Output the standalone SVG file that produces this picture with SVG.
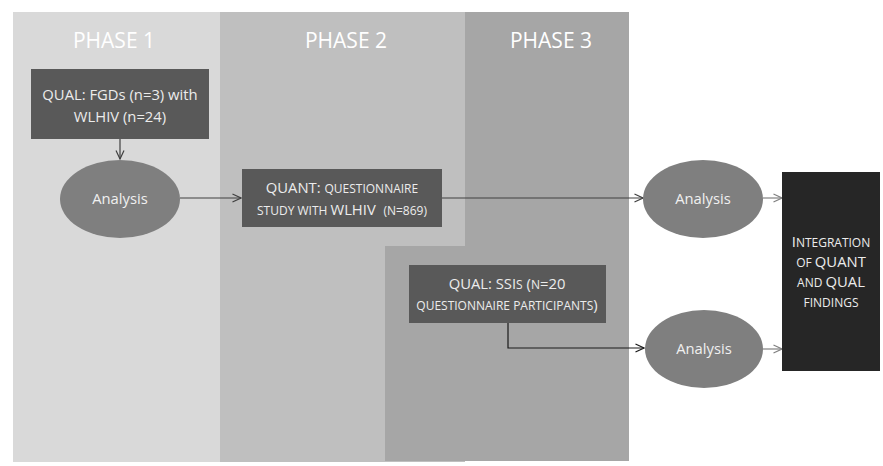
<svg xmlns="http://www.w3.org/2000/svg" width="883" height="466" viewBox="0 0 883 466">
<defs>
<style>
text{font-family:"Open Sans","Liberation Sans",sans-serif;text-anchor:middle}
.ph{font-size:21px;fill:#ffffff}
.bx{font-size:14.8px;fill:#ececec}
.sc{font-size:12px}
.el{font-size:14.8px;fill:#f0f0f0}
.box{fill:#595959}
.ell{fill:#7f7f7f}
.ln{fill:none;stroke-width:1.2}
</style>
<marker id="ah" viewBox="0 0 10 10" refX="9.5" refY="5" markerWidth="10" markerHeight="10" markerUnits="userSpaceOnUse" orient="auto">
<path d="M1,1 L9.5,5 L1,9" fill="none" stroke="context-stroke" stroke-width="1.2"/>
</marker>
</defs>
<rect width="883" height="466" fill="#ffffff"/>
<g id="phase1"><rect x="13" y="12" width="207" height="450" fill="#d9d9d9"/><text class="ph" x="114" y="48">PHASE 1</text></g>
<g id="phase2"><rect x="220" y="12" width="245" height="450" fill="#bfbfbf"/><text class="ph" x="346" y="48">PHASE 2</text></g>
<g id="phase3"><path d="M465,12 H629 V461 H385 V246 H465 Z" fill="#a6a6a6"/><text class="ph" x="551" y="48">PHASE 3</text></g>
<g id="connectors">
<path class="ln" d="M120,139 V159" stroke="#404040" marker-end="url(#ah)"/>
<path class="ln" d="M180,198 H241" stroke="#404040" marker-end="url(#ah)"/>
<path class="ln" d="M442,198 H643" stroke="#404040" marker-end="url(#ah)"/>
<path class="ln" d="M763,198 H782" stroke="#808080" marker-end="url(#ah)"/>
<path class="ln" d="M508,323 V348 H644" stroke="#1a1a1a" marker-end="url(#ah)"/>
<path class="ln" d="M763,349 H782" stroke="#808080" marker-end="url(#ah)"/>
</g>
<g id="qual1"><rect class="box" x="31" y="69" width="178" height="70"/><text class="bx" x="120" y="100">QUAL: FGDs (n=3) with</text><text class="bx" x="120" y="122">WLHIV (n=24)</text></g>
<g id="analysis1"><ellipse class="ell" cx="120" cy="199" rx="60" ry="39"/><text class="el" x="120" y="204">Analysis</text></g>
<g id="quant"><rect class="box" x="242" y="169" width="200" height="58"/><text class="bx" x="342" y="193">QUANT: <tspan class="sc">QUESTIONNAIRE</tspan></text><text class="bx" x="342" y="215" xml:space="preserve"><tspan class="sc">STUDY WITH </tspan>WLHIV  <tspan class="sc">(N=869)</tspan></text></g>
<g id="analysis2"><ellipse class="ell" cx="703" cy="199" rx="60" ry="39"/><text class="el" x="703" y="204">Analysis</text></g>
<g id="qual2"><rect class="box" x="409" y="265" width="197" height="58"/><text class="bx" x="507" y="289">QUAL: SSI<tspan class="sc">S</tspan> (<tspan class="sc">N</tspan>=20</text><text class="bx" x="507" y="310"><tspan class="sc">QUESTIONNAIRE PARTICIPANTS</tspan>)</text></g>
<g id="analysis3"><ellipse class="ell" cx="704" cy="349" rx="59" ry="39"/><text class="el" x="704" y="354">Analysis</text></g>
<g id="integration"><rect x="782" y="172" width="98" height="199" fill="#262626"/><text class="bx" x="831" y="247">I<tspan class="sc">NTEGRATION</tspan></text><text class="bx" x="831" y="267"><tspan class="sc">OF </tspan>QUANT</text><text class="bx" x="831" y="287"><tspan class="sc">AND </tspan>QUAL</text><text class="bx" x="831" y="307"><tspan class="sc">FINDINGS</tspan></text></g>
</svg>
